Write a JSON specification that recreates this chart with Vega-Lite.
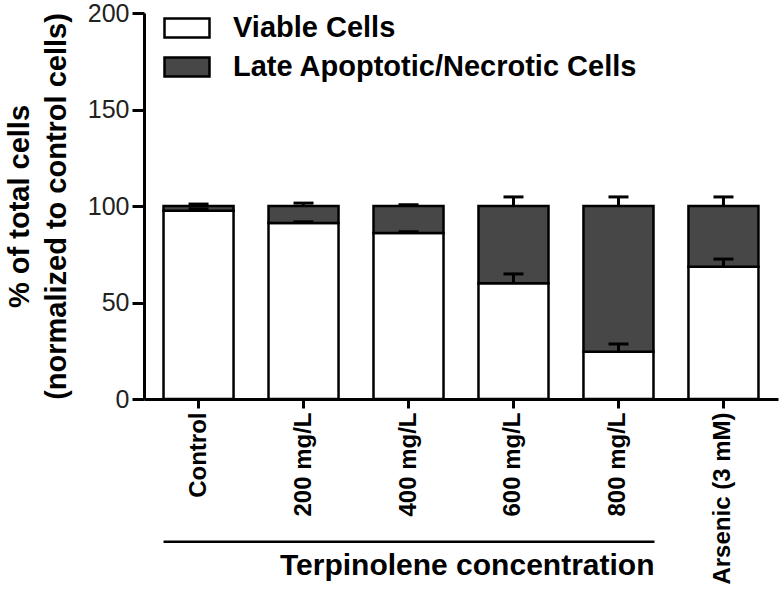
{
  "$schema": "https://vega.github.io/schema/vega-lite/v6.json",
  "width": 634,
  "height": 386,
  "autosize": "none",
  "padding": {"left": 144, "top": 13, "right": 4, "bottom": 217},
  "background": "white",
  "config": {
    "view": {"stroke": null},
    "font": "Liberation Sans"
  },
  "datasets": {
    "bars": [
      {"group": "Control", "type": "Viable Cells", "value": 97.5, "k": 1},
      {"group": "Control", "type": "Late Apoptotic/Necrotic Cells", "value": 2.5, "k": 2},
      {"group": "200 mg/L", "type": "Viable Cells", "value": 91.2, "k": 1},
      {"group": "200 mg/L", "type": "Late Apoptotic/Necrotic Cells", "value": 8.8, "k": 2},
      {"group": "400 mg/L", "type": "Viable Cells", "value": 86, "k": 1},
      {"group": "400 mg/L", "type": "Late Apoptotic/Necrotic Cells", "value": 14, "k": 2},
      {"group": "600 mg/L", "type": "Viable Cells", "value": 60, "k": 1},
      {"group": "600 mg/L", "type": "Late Apoptotic/Necrotic Cells", "value": 40, "k": 2},
      {"group": "800 mg/L", "type": "Viable Cells", "value": 24.5, "k": 1},
      {"group": "800 mg/L", "type": "Late Apoptotic/Necrotic Cells", "value": 75.5, "k": 2},
      {"group": "Arsenic (3 mM)", "type": "Viable Cells", "value": 68.5, "k": 1},
      {"group": "Arsenic (3 mM)", "type": "Late Apoptotic/Necrotic Cells", "value": 31.5, "k": 2}
    ],
    "errs": [
      {"group": "Control", "low": 97.5, "high": 98.5},
      {"group": "Control", "low": 100, "high": 101},
      {"group": "200 mg/L", "low": 91.2, "high": 91.8},
      {"group": "200 mg/L", "low": 100, "high": 101.5},
      {"group": "400 mg/L", "low": 86, "high": 86.6},
      {"group": "400 mg/L", "low": 100, "high": 100.6},
      {"group": "600 mg/L", "low": 60, "high": 64.8},
      {"group": "600 mg/L", "low": 100, "high": 104.7},
      {"group": "800 mg/L", "low": 24.5, "high": 28.5},
      {"group": "800 mg/L", "low": 100, "high": 104.7},
      {"group": "Arsenic (3 mM)", "low": 68.5, "high": 72.5},
      {"group": "Arsenic (3 mM)", "low": 100, "high": 104.7}
    ]
  },
  "layer": [
    {
      "data": {"name": "bars"},
      "mark": {"type": "bar", "stroke": "black", "strokeWidth": 2.5},
      "encoding": {
        "x": {
          "field": "group", "type": "nominal", "sort": null,
          "scale": {"paddingInner": 0.333, "paddingOuter": 0.186},
          "axis": {
            "title": null, "labelAngle": -90, "labelAlign": "right", "labelBaseline": "middle",
            "labelFont": "Liberation Sans", "labelFontWeight": "bold", "labelFontSize": 24, "labelColor": "black",
            "labelPadding": 4, "tickSize": 9, "tickWidth": 3, "tickColor": "black",
            "domainWidth": 3, "domainColor": "black", "labelOverlap": false
          }
        },
        "y": {
          "field": "value", "type": "quantitative", "stack": "zero",
          "scale": {"domain": [0, 200], "nice": false},
          "axis": {
            "title": ["% of total cells", "(normalized to control cells)"],
            "titleFont": "Liberation Sans", "titleFontWeight": "bold", "titleFontSize": 29, "titleColor": "black",
            "titleLineHeight": 37, "titlePadding": 16,
            "values": [0, 50, 100, 150, 200], "grid": false,
            "labelFont": "Liberation Sans", "labelFontSize": 25, "labelColor": "#222", "labelPadding": 3,
            "tickSize": 12, "tickWidth": 3, "tickColor": "black",
            "domainWidth": 3, "domainColor": "black"
          }
        },
        "order": {"field": "k", "type": "quantitative"},
        "color": {
          "field": "type", "type": "nominal",
          "scale": {"domain": ["Viable Cells", "Late Apoptotic/Necrotic Cells"], "range": ["white", "#474747"]},
          "legend": {
            "title": null, "orient": "none", "legendX": 19, "legendY": -9, "padding": 0,
            "symbolType": "M-1,-0.42H1V0.42H-1Z", "symbolSize": 2025,
            "symbolStrokeColor": "black", "symbolStrokeWidth": 2.5,
            "labelFont": "Liberation Sans", "labelFontWeight": "bold", "labelFontSize": 29, "labelColor": "black",
            "labelOffset": 22, "rowPadding": -7, "labelLimit": 600
          }
        }
      }
    },
    {
      "data": {"name": "errs"},
      "mark": {"type": "rule", "strokeWidth": 3, "color": "black"},
      "encoding": {
        "x": {"field": "group", "type": "nominal", "sort": null},
        "y": {"field": "low", "type": "quantitative"},
        "y2": {"field": "high"}
      }
    },
    {
      "data": {"name": "errs"},
      "mark": {"type": "tick", "thickness": 3, "size": 20, "color": "black", "opacity": 1},
      "encoding": {
        "x": {"field": "group", "type": "nominal", "sort": null},
        "y": {"field": "high", "type": "quantitative"}
      }
    },
    {
      "data": {"values": [{}]},
      "mark": {"type": "rule", "strokeWidth": 2.5, "color": "black", "xOffset": -35, "x2Offset": 36},
      "encoding": {
        "x": {"datum": "Control"},
        "x2": {"datum": "800 mg/L"},
        "y": {"datum": -74}
      }
    },
    {
      "data": {"values": [{"label": "Terpinolene concentration"}]},
      "mark": {"type": "text", "align": "right", "baseline": "middle", "dx": 36, "font": "Liberation Sans", "fontWeight": "bold", "fontSize": 30, "color": "black"},
      "encoding": {
        "x": {"datum": "800 mg/L"},
        "y": {"datum": -86.5},
        "text": {"field": "label"}
      }
    }
  ]
}
